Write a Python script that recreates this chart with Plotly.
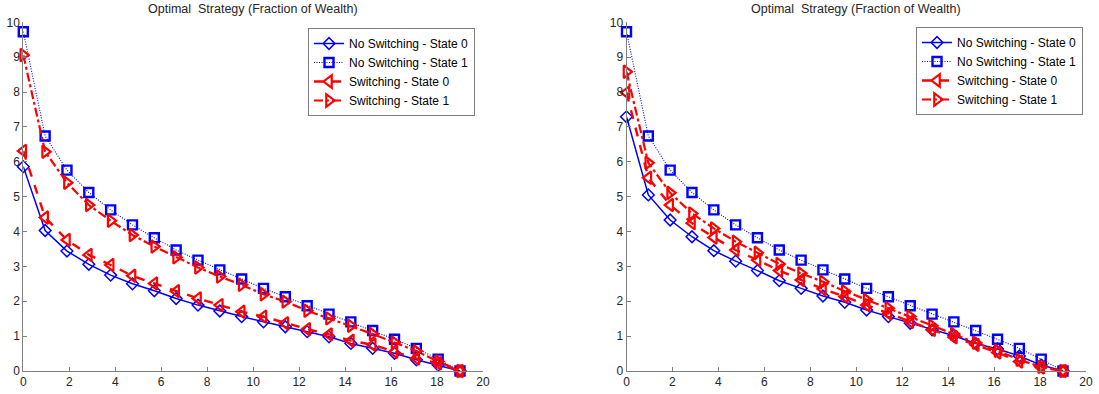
import plotly.graph_objects as go

# ---- data ----
x_vals = [0, 0.95, 1.9, 2.85, 3.8, 4.75, 5.7, 6.65, 7.6, 8.55, 9.5,
          10.45, 11.4, 12.35, 13.3, 14.25, 15.2, 16.15, 17.1, 18.05, 19]

series_names = ["No Switching - State 0", "No Switching - State 1",
                "Switching - State 0", "Switching - State 1"]

left_ns0 = [5.86, 4.03, 3.44, 3.06, 2.75, 2.50, 2.30, 2.08, 1.89, 1.72, 1.56,
            1.41, 1.27, 1.13, 0.98, 0.79, 0.65, 0.51, 0.32, 0.17, 0.0]
left_ns1 = [9.73, 6.74, 5.76, 5.12, 4.62, 4.19, 3.82, 3.47, 3.18, 2.90, 2.64,
            2.37, 2.13, 1.87, 1.63, 1.41, 1.16, 0.91, 0.65, 0.34, 0.0]
left_s0 = [6.31, 4.40, 3.76, 3.33, 3.04, 2.73, 2.51, 2.29, 2.08, 1.89, 1.70,
           1.56, 1.37, 1.20, 1.05, 0.87, 0.75, 0.55, 0.36, 0.22, 0.0]
left_s1 = [9.06, 6.29, 5.40, 4.76, 4.31, 3.90, 3.57, 3.26, 2.97, 2.71, 2.47,
           2.20, 1.99, 1.73, 1.51, 1.30, 1.06, 0.82, 0.57, 0.27, 0.0]

right_ns0 = [7.29, 5.05, 4.33, 3.85, 3.45, 3.15, 2.88, 2.59, 2.37, 2.15, 1.97,
             1.75, 1.56, 1.37, 1.18, 1.01, 0.79, 0.63, 0.43, 0.17, 0.0]
right_ns1 = [9.73, 6.74, 5.76, 5.12, 4.62, 4.19, 3.82, 3.47, 3.18, 2.90, 2.64,
             2.37, 2.13, 1.87, 1.63, 1.41, 1.16, 0.91, 0.65, 0.34, 0.0]
right_s0 = [7.98, 5.54, 4.76, 4.24, 3.83, 3.47, 3.18, 2.88, 2.61, 2.35, 2.13,
            1.89, 1.65, 1.41, 1.18, 0.97, 0.75, 0.53, 0.27, 0.10, 0.0]
right_s1 = [8.58, 5.97, 5.11, 4.52, 4.09, 3.71, 3.39, 3.07, 2.80, 2.56, 2.29,
            2.04, 1.80, 1.56, 1.30, 1.06, 0.81, 0.58, 0.32, 0.12, 0.0]

x_ticks = [0, 2, 4, 6, 8, 10, 12, 14, 16, 18, 20]
y_ticks = [0, 1, 2, 3, 4, 5, 6, 7, 8, 9, 10]
title_text = "Optimal\u00a0 Strategy (Fraction of Wealth)"

# ---- styles ----
BLUE = "#0000FF"
RED = "#FF0000"
styles = [
    dict(line=dict(color=BLUE, width=1.5, dash="solid"),
         marker=dict(symbol="diamond-open", size=9, color=BLUE, line=dict(width=1.5, color=BLUE))),
    dict(line=dict(color=BLUE, width=1.1, dash="1px,1.5px"),
         marker=dict(symbol="square-open", size=9, color=BLUE, line=dict(width=2.4, color=BLUE))),
    dict(line=dict(color=RED, width=2.4, dash="dash"),
         marker=dict(symbol="triangle-left-open", size=11, color=RED, line=dict(width=2.2, color=RED))),
    dict(line=dict(color=RED, width=2.2, dash="dashdot"),
         marker=dict(symbol="triangle-right-open", size=11, color=RED, line=dict(width=2.2, color=RED))),
]

FONT = "Arial, 'Liberation Sans', Helvetica, sans-serif"

fig = go.Figure()
panels = [
    ("x", "y", "legend", [left_ns0, left_ns1, left_s0, left_s1]),
    ("x2", "y2", "legend2", [right_ns0, right_ns1, right_s0, right_s1]),
]
for xa, ya, lg, data in panels:
    for name, ys, st in zip(series_names, data, styles):
        fig.add_trace(go.Scatter(
            x=x_vals, y=ys, name=name, mode="lines+markers",
            line=st["line"], marker=st["marker"], xaxis=xa, yaxis=ya,
            legend=lg, cliponaxis=False,
        ))

W, H = 1099, 394
ydom = [(394 - 371) / H, (394 - 22.3) / H]
axis_common = dict(showline=True, linecolor="#808080", linewidth=1,
                   ticks="inside", ticklen=4, tickcolor="#808080",
                   showgrid=False, zeroline=False, mirror=False, automargin=False,
                   tickfont=dict(family=FONT, size=12, color="#262626"))

fig.update_layout(
    width=W, height=H,
    margin=dict(l=0, r=0, t=0, b=0, autoexpand=False),
    paper_bgcolor="white", plot_bgcolor="white",
    font=dict(family=FONT, size=12, color="#262626"),
    xaxis=dict(domain=[23.3 / W, 483 / W], range=[0, 20], tickvals=x_ticks, anchor="y", **axis_common),
    yaxis=dict(domain=ydom, range=[0, 10], tickvals=y_ticks, anchor="x", **axis_common),
    xaxis2=dict(domain=[626.5 / W, 1086 / W], range=[0, 20], tickvals=x_ticks, anchor="y2", **axis_common),
    yaxis2=dict(domain=ydom, range=[0, 10], tickvals=y_ticks, anchor="x2", **axis_common),
    legend=dict(x=475 / W, y=(394 - 28) / H, xanchor="right", yanchor="top",
                bgcolor="white", bordercolor="#808080", borderwidth=1,
                font=dict(family=FONT, size=12, color="#000000"), itemwidth=30,
                tracegroupgap=0),
    legend2=dict(x=1083 / W, y=(394 - 27) / H, xanchor="right", yanchor="top",
                 bgcolor="white", bordercolor="#808080", borderwidth=1,
                 font=dict(family=FONT, size=12, color="#000000"), itemwidth=30,
                 tracegroupgap=0),
    showlegend=True,
    annotations=[
        dict(text=title_text, xref="paper", yref="paper",
             x=(23.3 + 483) / 2 / W, y=(394 - 9) / H, xanchor="center", yanchor="middle",
             showarrow=False, font=dict(family=FONT, size=12.5, color="#262626")),
        dict(text=title_text, xref="paper", yref="paper",
             x=(626.5 + 1086) / 2 / W, y=(394 - 9) / H, xanchor="center", yanchor="middle",
             showarrow=False, font=dict(family=FONT, size=12.5, color="#262626")),
    ],
)

fig.write_html("out.html")
